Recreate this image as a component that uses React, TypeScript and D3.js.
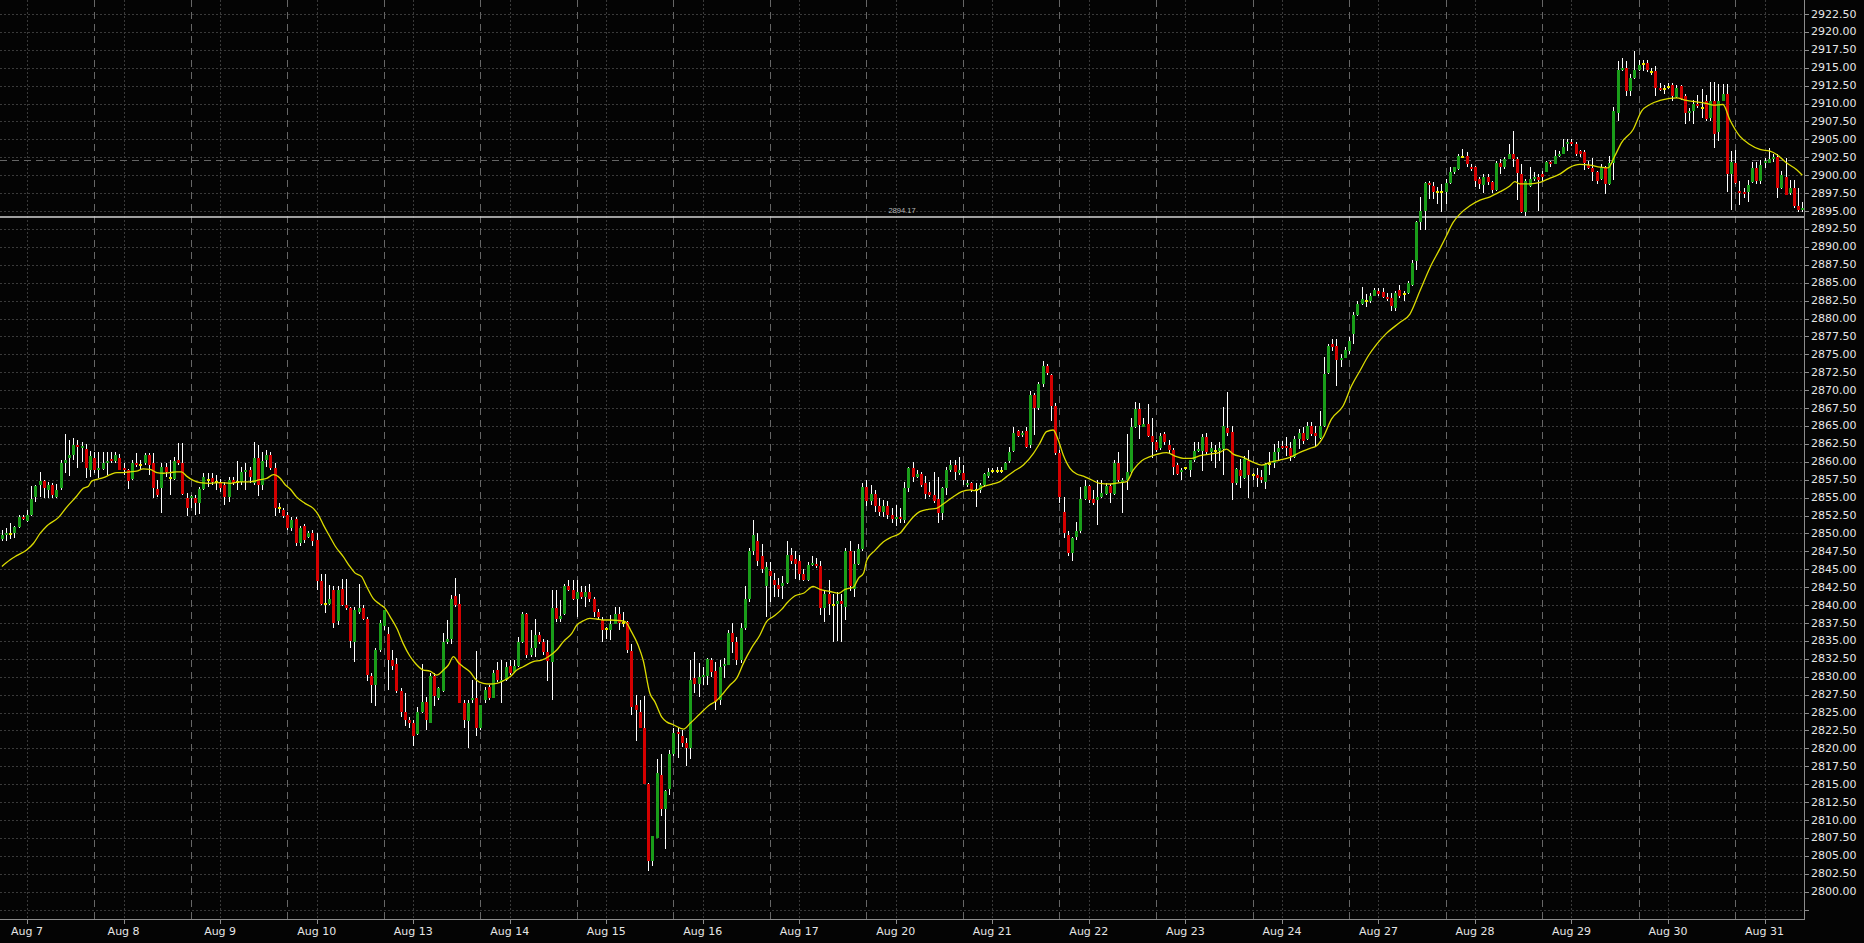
import React from "react";
import * as d3 from "d3";

// ---------- DATA (hourly candles, Aug 7 – Aug 31) ----------
const opens = [
  2849.2, 2849.8, 2849.9, 2850.1, 2850.9, 2852.3, 2851.7, 2852.6, 2855.1, 2856.8,
  2857.3, 2856.1, 2856.7, 2855.1, 2856.4, 2859.9, 2860.6, 2860.9, 2862.4, 2861.9,
  2861.8, 2858.9, 2860.5, 2858.9, 2859.0, 2859.9, 2860.3, 2860.1, 2860.6, 2859.1,
  2858.9, 2857.6, 2859.9, 2859.5, 2859.9, 2860.9, 2859.9, 2856.2, 2856.4, 2859.3,
  2857.8, 2857.6, 2860.3, 2859.9, 2855.0, 2854.9, 2855.0, 2854.2, 2856.2, 2857.5,
  2857.8, 2857.2, 2857.2, 2856.7, 2855.1, 2857.5, 2857.2, 2857.2, 2858.6, 2858.9,
  2857.0, 2860.6, 2856.7, 2860.3, 2860.9, 2859.1, 2853.5, 2853.3, 2852.6, 2850.7,
  2852.0, 2848.6, 2851.0, 2849.5, 2850.0, 2849.1, 2843.4, 2840.2, 2840.2, 2842.1,
  2837.8, 2842.2, 2840.0, 2839.6, 2834.9, 2839.1, 2839.6, 2838.1, 2830.1, 2828.8,
  2833.7, 2837.1, 2836.0, 2832.3, 2831.8, 2828.0, 2825.1, 2824.0, 2823.5, 2822.0,
  2825.1, 2826.5, 2823.6, 2830.1, 2827.1, 2828.0, 2834.9, 2835.2, 2841.3, 2840.2,
  2826.4, 2823.8, 2826.8, 2827.1, 2822.9, 2826.7, 2828.6, 2827.1, 2830.9, 2829.2,
  2829.5, 2831.5, 2830.6, 2831.5, 2834.9, 2838.8, 2833.0, 2834.0, 2835.8, 2834.9,
  2833.4, 2832.1, 2839.6, 2838.1, 2838.8, 2842.6, 2842.1, 2840.9, 2841.8, 2841.2,
  2841.8, 2840.8, 2839.1, 2837.9, 2836.7, 2836.5, 2837.4, 2838.8, 2837.5, 2837.7,
  2833.6, 2826.0, 2825.1, 2822.8, 2815.0, 2804.3, 2807.5, 2816.3, 2811.6, 2814.4,
  2819.2, 2822.2, 2821.7, 2820.8, 2820.1, 2829.8, 2829.0, 2830.0, 2830.1, 2832.3,
  2830.8, 2826.7, 2831.5, 2831.7, 2836.1, 2834.9, 2832.4, 2836.8, 2840.8, 2847.5,
  2849.0, 2846.8, 2842.6, 2844.8, 2843.5, 2842.8, 2842.6, 2843.1, 2847.0, 2846.4,
  2846.1, 2844.4, 2843.5, 2845.6, 2845.8, 2845.4, 2839.6, 2841.6, 2840.0, 2840.1,
  2840.6, 2839.8, 2847.5, 2842.3, 2845.8, 2847.8, 2856.5, 2854.5, 2855.5, 2853.8,
  2853.0, 2853.8, 2852.6, 2852.0, 2852.3, 2851.9, 2856.3, 2859.2, 2857.9, 2858.3,
  2857.0, 2855.8, 2855.4, 2854.8, 2852.8, 2856.3, 2858.9, 2859.5, 2858.4, 2858.4,
  2856.8, 2857.0, 2856.0, 2856.0, 2856.7, 2858.0, 2858.7, 2858.7, 2858.7, 2858.9,
  2860.1, 2861.5, 2864.3, 2863.7, 2864.3, 2862.3, 2869.3, 2867.5, 2870.9, 2873.4,
  2872.1, 2867.8, 2861.2, 2853.0, 2849.8, 2847.3, 2849.5, 2850.4, 2854.8, 2856.6,
  2854.8, 2854.6, 2855.1, 2855.5, 2856.6, 2855.5, 2859.8, 2857.1, 2857.5, 2858.6,
  2864.8, 2867.4, 2864.9, 2865.3, 2863.6, 2862.8, 2861.9, 2863.9, 2862.3, 2861.7,
  2859.5, 2858.6, 2859.1, 2858.9, 2860.2, 2861.5, 2861.5, 2863.5, 2861.4, 2861.5,
  2861.5, 2861.8, 2864.7, 2864.2, 2857.0, 2858.8, 2857.8, 2860.1, 2858.1, 2858.2,
  2857.9, 2857.2, 2859.7, 2859.8, 2861.4, 2862.2, 2862.2, 2861.9, 2860.7, 2863.2,
  2864.0, 2863.2, 2865.0, 2864.0, 2863.3, 2865.0, 2872.4, 2876.5, 2876.2, 2874.2,
  2874.5, 2875.5, 2877.8, 2880.5, 2882.0, 2882.4, 2882.5, 2883.2, 2883.8, 2883.7,
  2883.0, 2882.8, 2881.5, 2884.0, 2883.4, 2883.5, 2884.7, 2888.0, 2893.5, 2895.0,
  2898.9, 2898.5, 2897.6, 2897.6, 2897.7, 2898.9, 2900.5, 2900.8, 2902.6, 2902.7,
  2901.1, 2901.1, 2899.5, 2898.6, 2899.8, 2899.0, 2898.0, 2901.7, 2901.1, 2902.3,
  2903.0, 2902.3, 2900.1, 2894.8, 2898.5, 2899.5, 2899.8, 2900.1, 2900.5, 2901.8,
  2901.6, 2902.7, 2903.0, 2904.3, 2904.6, 2904.3, 2903.4, 2903.2, 2901.4, 2901.0,
  2900.4, 2899.5, 2901.1, 2898.8, 2901.7, 2908.7, 2914.7, 2914.9, 2911.7, 2913.5,
  2914.7, 2915.5, 2915.6, 2914.4, 2914.6, 2912.2, 2912.0, 2912.3, 2912.6, 2910.9,
  2912.4, 2911.0, 2908.7, 2908.9, 2909.9, 2909.4, 2910.3, 2908.0, 2910.4, 2906.0,
  2910.4, 2911.4, 2900.1, 2901.7, 2897.7, 2897.7, 2897.6, 2899.1, 2901.0, 2899.2,
  2901.7, 2901.7, 2902.3, 2902.6, 2898.2, 2899.7, 2897.5, 2898.2, 2895.7, 2895.2,
];

const highs = [
  2850.5, 2850.7, 2851.5, 2851.0, 2852.6, 2852.6, 2853.3, 2856.6, 2856.8, 2858.6,
  2857.5, 2857.2, 2857.0, 2856.9, 2860.3, 2863.9, 2863.0, 2863.3, 2863.0, 2862.7,
  2862.5, 2861.5, 2861.3, 2861.3, 2861.3, 2861.3, 2861.3, 2861.3, 2861.1, 2859.8,
  2859.0, 2860.3, 2861.2, 2860.3, 2861.2, 2861.2, 2861.2, 2857.5, 2859.8, 2859.8,
  2860.3, 2860.7, 2862.6, 2862.6, 2855.7, 2855.4, 2855.4, 2856.5, 2858.5, 2858.4,
  2858.4, 2858.2, 2857.6, 2857.2, 2857.9, 2857.9, 2860.1, 2859.3, 2859.8, 2859.3,
  2862.7, 2862.4, 2861.4, 2861.6, 2861.4, 2859.8, 2854.2, 2853.6, 2853.0, 2852.3,
  2852.3, 2851.0, 2851.3, 2850.4, 2850.5, 2850.0, 2844.4, 2844.4, 2842.8, 2842.6,
  2842.6, 2843.7, 2843.7, 2839.8, 2839.8, 2843.0, 2840.0, 2838.4, 2830.5, 2834.0,
  2837.9, 2839.3, 2837.0, 2833.8, 2832.6, 2828.4, 2827.7, 2824.4, 2823.9, 2825.8,
  2831.8, 2827.2, 2830.5, 2830.5, 2828.6, 2836.1, 2837.9, 2841.4, 2843.8, 2841.5,
  2826.7, 2826.7, 2829.6, 2833.6, 2826.1, 2828.6, 2828.8, 2830.9, 2832.1, 2832.4,
  2832.1, 2832.3, 2832.3, 2835.6, 2839.1, 2838.9, 2836.5, 2838.0, 2836.3, 2835.2,
  2835.1, 2842.1, 2842.1, 2840.7, 2843.0, 2843.5, 2843.5, 2843.5, 2842.7, 2842.6,
  2843.0, 2841.2, 2839.5, 2838.4, 2837.0, 2838.6, 2839.7, 2839.7, 2839.1, 2837.8,
  2834.6, 2827.5, 2826.8, 2827.3, 2815.2, 2807.8, 2818.5, 2819.2, 2814.2, 2819.8,
  2822.8, 2822.8, 2822.5, 2821.4, 2832.3, 2833.5, 2831.9, 2831.4, 2832.6, 2832.6,
  2832.1, 2832.3, 2832.6, 2836.5, 2837.5, 2835.6, 2837.5, 2842.6, 2848.0, 2851.9,
  2850.0, 2848.5, 2846.0, 2846.0, 2844.5, 2843.8, 2844.0, 2849.0, 2848.0, 2847.5,
  2847.0, 2845.0, 2846.0, 2846.8, 2846.6, 2846.2, 2842.0, 2843.5, 2841.5, 2841.8,
  2841.5, 2848.0, 2849.0, 2847.5, 2848.5, 2857.0, 2857.5, 2856.8, 2856.0, 2855.0,
  2854.6, 2854.5, 2853.5, 2854.0, 2853.5, 2857.2, 2859.3, 2860.0, 2858.8, 2858.6,
  2858.0, 2857.2, 2858.6, 2857.9, 2856.5, 2859.3, 2860.2, 2860.2, 2860.7, 2859.5,
  2857.4, 2857.2, 2857.0, 2857.0, 2858.5, 2859.1, 2859.1, 2859.3, 2859.3, 2860.0,
  2862.1, 2864.9, 2864.5, 2864.3, 2864.9, 2869.9, 2869.6, 2871.2, 2874.1, 2873.7,
  2872.3, 2868.2, 2861.6, 2855.1, 2850.4, 2849.5, 2851.6, 2856.5, 2857.5, 2856.8,
  2856.1, 2857.5, 2857.5, 2857.0, 2856.9, 2860.2, 2861.3, 2857.7, 2863.9, 2866.1,
  2868.3, 2868.2, 2866.1, 2868.0, 2866.1, 2863.0, 2864.0, 2864.1, 2863.0, 2861.9,
  2859.8, 2859.1, 2859.3, 2860.3, 2862.7, 2862.8, 2863.9, 2864.0, 2862.7, 2862.4,
  2862.7, 2867.7, 2869.7, 2865.0, 2859.2, 2860.4, 2860.8, 2861.7, 2858.5, 2859.2,
  2858.8, 2859.8, 2861.4, 2862.5, 2862.9, 2862.9, 2863.4, 2862.7, 2863.6, 2864.6,
  2864.8, 2865.5, 2865.5, 2865.0, 2867.1, 2874.6, 2876.4, 2877.1, 2877.1, 2875.0,
  2876.0, 2877.4, 2880.9, 2882.5, 2884.4, 2883.4, 2883.6, 2884.3, 2884.3, 2884.3,
  2883.5, 2883.6, 2883.8, 2884.7, 2883.8, 2885.3, 2888.1, 2893.6, 2896.9, 2899.0,
  2899.2, 2899.0, 2898.3, 2898.8, 2899.5, 2901.1, 2901.1, 2902.9, 2903.6, 2903.3,
  2901.6, 2901.3, 2899.7, 2900.1, 2900.1, 2899.2, 2902.0, 2902.2, 2902.5, 2904.3,
  2906.2, 2902.5, 2901.6, 2899.5, 2901.1, 2900.4, 2900.1, 2900.6, 2902.0, 2902.0,
  2903.5, 2903.4, 2905.0, 2905.0, 2905.0, 2904.6, 2903.5, 2903.5, 2902.0, 2902.4,
  2900.6, 2901.6, 2901.3, 2902.7, 2909.5, 2915.9, 2916.3, 2915.9, 2914.1, 2917.4,
  2916.1, 2916.1, 2916.1, 2914.9, 2915.2, 2912.8, 2912.6, 2912.9, 2912.8, 2912.6,
  2912.6, 2911.3, 2909.4, 2910.5, 2911.2, 2912.0, 2911.2, 2913.0, 2913.0, 2912.7,
  2912.7, 2912.7, 2903.4, 2903.5, 2899.2, 2898.2, 2899.4, 2901.9, 2901.8, 2902.1,
  2902.4, 2903.8, 2902.9, 2902.9, 2900.6, 2902.4, 2899.4, 2899.4, 2898.2, 2896.3,
];

const lows = [
  2849.0, 2849.0, 2849.2, 2849.3, 2850.8, 2851.9, 2851.6, 2852.4, 2854.4, 2855.1,
  2855.0, 2855.0, 2855.0, 2854.9, 2856.1, 2858.5, 2858.0, 2860.2, 2859.1, 2860.0,
  2857.8, 2857.9, 2858.4, 2857.7, 2858.9, 2858.2, 2859.8, 2859.9, 2858.8, 2858.2,
  2856.2, 2857.5, 2859.3, 2858.9, 2859.6, 2858.2, 2855.0, 2855.1, 2852.9, 2857.9,
  2855.4, 2857.5, 2859.6, 2855.4, 2852.5, 2853.6, 2852.6, 2852.7, 2856.1, 2856.5,
  2856.8, 2856.1, 2855.8, 2854.0, 2854.4, 2856.8, 2856.1, 2856.8, 2856.1, 2857.0,
  2856.8, 2855.2, 2856.1, 2859.3, 2858.9, 2852.4, 2852.8, 2852.2, 2850.5, 2850.4,
  2848.2, 2848.2, 2848.6, 2849.3, 2848.2, 2842.1, 2840.0, 2838.9, 2840.0, 2836.8,
  2837.2, 2839.9, 2839.3, 2834.0, 2832.0, 2838.8, 2837.9, 2829.4, 2826.3, 2825.9,
  2833.5, 2836.5, 2828.2, 2830.9, 2827.7, 2824.4, 2823.1, 2822.9, 2820.3, 2821.9,
  2825.0, 2822.5, 2823.5, 2825.9, 2826.8, 2827.9, 2834.6, 2834.6, 2839.8, 2826.3,
  2822.8, 2820.0, 2826.3, 2821.7, 2822.6, 2826.3, 2826.7, 2827.0, 2829.3, 2826.3,
  2829.4, 2830.2, 2830.5, 2831.4, 2834.7, 2832.6, 2832.8, 2832.7, 2834.6, 2833.0,
  2829.4, 2826.7, 2837.7, 2837.7, 2838.6, 2841.9, 2840.7, 2838.4, 2840.9, 2839.8,
  2840.5, 2838.4, 2837.9, 2834.9, 2835.2, 2835.1, 2837.3, 2836.5, 2837.0, 2833.3,
  2824.7, 2821.0, 2822.8, 2815.0, 2802.9, 2803.6, 2807.5, 2810.6, 2805.9, 2813.5,
  2818.9, 2818.6, 2820.2, 2817.5, 2818.5, 2827.7, 2827.2, 2828.9, 2828.9, 2830.0,
  2825.4, 2826.1, 2829.8, 2831.6, 2833.3, 2831.6, 2831.9, 2836.5, 2840.5, 2847.0,
  2845.5, 2844.5, 2838.4, 2840.5, 2841.2, 2841.2, 2840.8, 2842.9, 2845.7, 2843.7,
  2843.5, 2843.4, 2843.3, 2845.5, 2845.2, 2838.6, 2837.7, 2838.6, 2834.9, 2835.0,
  2834.9, 2837.9, 2842.0, 2841.2, 2845.6, 2847.5, 2853.8, 2854.0, 2853.0, 2852.5,
  2852.3, 2852.0, 2851.5, 2851.0, 2851.5, 2851.5, 2855.8, 2857.2, 2857.7, 2856.5,
  2854.8, 2855.1, 2854.2, 2851.5, 2851.9, 2855.3, 2858.6, 2857.5, 2858.2, 2856.7,
  2856.5, 2855.8, 2853.7, 2855.6, 2856.5, 2857.7, 2858.4, 2858.4, 2858.5, 2858.8,
  2859.8, 2861.4, 2863.4, 2863.5, 2861.9, 2861.9, 2863.7, 2867.2, 2870.5, 2872.1,
  2865.7, 2860.9, 2854.2, 2849.3, 2846.8, 2846.2, 2849.1, 2850.0, 2854.7, 2854.2,
  2854.0, 2851.2, 2854.9, 2855.4, 2854.2, 2855.4, 2857.2, 2852.9, 2856.1, 2858.4,
  2864.7, 2863.2, 2864.8, 2863.5, 2860.5, 2861.4, 2861.6, 2862.3, 2861.2, 2858.2,
  2858.2, 2857.5, 2858.9, 2857.9, 2860.0, 2861.4, 2858.7, 2861.0, 2860.1, 2859.1,
  2860.1, 2858.1, 2863.6, 2854.7, 2856.7, 2856.4, 2857.6, 2854.9, 2857.4, 2856.5,
  2857.1, 2856.2, 2858.2, 2859.2, 2860.2, 2861.8, 2860.8, 2860.1, 2860.6, 2861.8,
  2862.5, 2863.0, 2863.6, 2862.0, 2863.2, 2864.9, 2872.2, 2875.5, 2870.6, 2873.3,
  2874.5, 2875.0, 2876.4, 2880.3, 2881.9, 2881.6, 2882.2, 2883.1, 2883.2, 2882.9,
  2882.5, 2881.1, 2881.1, 2882.9, 2882.5, 2883.4, 2884.6, 2886.8, 2892.4, 2892.4,
  2896.7, 2896.7, 2896.0, 2894.9, 2896.0, 2898.8, 2900.1, 2900.7, 2902.4, 2901.2,
  2900.6, 2898.3, 2898.1, 2897.5, 2898.7, 2897.5, 2897.8, 2900.2, 2900.9, 2902.2,
  2901.1, 2896.5, 2894.7, 2894.3, 2898.4, 2899.2, 2895.0, 2899.2, 2900.4, 2901.1,
  2901.5, 2902.5, 2902.9, 2903.4, 2904.1, 2902.7, 2902.6, 2900.7, 2900.8, 2899.2,
  2898.8, 2899.3, 2897.4, 2898.7, 2899.4, 2907.5, 2914.6, 2911.1, 2911.1, 2913.4,
  2914.5, 2914.5, 2914.4, 2914.0, 2911.1, 2911.7, 2911.3, 2912.0, 2910.4, 2910.8,
  2910.5, 2907.1, 2907.5, 2907.2, 2909.4, 2908.0, 2907.5, 2907.5, 2903.8, 2904.8,
  2910.3, 2897.7, 2895.2, 2898.8, 2895.8, 2896.8, 2896.2, 2898.9, 2898.8, 2898.8,
  2901.0, 2901.7, 2901.9, 2896.8, 2898.1, 2897.2, 2897.3, 2895.4, 2894.9, 2894.9,
];

const closes = [
  2849.8, 2850.0, 2849.9, 2850.9, 2852.3, 2852.0, 2852.6, 2854.8, 2856.6, 2857.3,
  2856.4, 2856.7, 2855.4, 2856.1, 2859.9, 2860.3, 2860.9, 2862.4, 2862.1, 2862.1,
  2859.2, 2860.8, 2858.9, 2859.1, 2859.9, 2860.1, 2860.1, 2860.9, 2858.9, 2858.9,
  2857.3, 2859.9, 2859.6, 2859.5, 2860.9, 2859.6, 2856.4, 2855.4, 2859.3, 2858.6,
  2857.8, 2860.1, 2859.9, 2855.5, 2853.6, 2855.2, 2854.2, 2856.2, 2857.9, 2857.5,
  2857.2, 2857.2, 2856.4, 2855.1, 2857.5, 2857.1, 2857.2, 2858.6, 2858.9, 2857.9,
  2860.6, 2856.7, 2860.1, 2860.9, 2859.2, 2853.6, 2853.5, 2852.4, 2850.7, 2851.9,
  2848.6, 2850.7, 2849.1, 2850.0, 2848.9, 2843.4, 2840.2, 2840.2, 2840.8, 2837.5,
  2842.1, 2840.0, 2839.6, 2835.0, 2839.3, 2839.6, 2838.1, 2830.2, 2828.8, 2833.7,
  2837.5, 2839.3, 2832.3, 2831.5, 2828.0, 2825.1, 2824.0, 2823.5, 2821.7, 2825.1,
  2826.5, 2823.9, 2830.1, 2827.3, 2828.4, 2834.9, 2835.2, 2840.9, 2840.0, 2826.4,
  2824.0, 2826.4, 2827.1, 2822.9, 2826.0, 2828.2, 2827.1, 2830.5, 2829.6, 2829.5,
  2831.4, 2830.5, 2831.5, 2834.9, 2838.8, 2833.0, 2834.0, 2835.8, 2834.9, 2833.4,
  2832.2, 2839.6, 2838.1, 2838.5, 2842.6, 2842.1, 2840.9, 2841.8, 2841.1, 2841.8,
  2840.8, 2839.1, 2838.4, 2836.5, 2836.7, 2837.4, 2838.8, 2837.5, 2837.5, 2833.7,
  2825.8, 2825.3, 2822.9, 2815.0, 2804.3, 2807.8, 2816.5, 2811.6, 2814.1, 2819.2,
  2822.1, 2822.0, 2820.8, 2820.1, 2829.5, 2829.0, 2829.9, 2830.1, 2832.5, 2830.6,
  2826.5, 2831.4, 2831.7, 2836.1, 2834.9, 2832.4, 2836.8, 2840.8, 2847.5, 2849.8,
  2846.1, 2845.1, 2845.3, 2844.1, 2842.8, 2842.3, 2843.1, 2847.0, 2846.1, 2845.8,
  2844.4, 2843.5, 2845.6, 2845.8, 2845.4, 2839.6, 2841.6, 2840.1, 2840.0, 2840.6,
  2840.1, 2847.5, 2842.6, 2845.8, 2847.8, 2856.5, 2854.5, 2855.5, 2853.8, 2853.0,
  2853.8, 2852.6, 2852.0, 2852.3, 2852.0, 2856.3, 2859.1, 2857.9, 2858.3, 2856.8,
  2855.5, 2855.3, 2854.5, 2852.8, 2856.3, 2858.9, 2859.5, 2858.6, 2858.9, 2857.4,
  2857.0, 2856.1, 2856.0, 2856.7, 2858.3, 2858.6, 2858.7, 2858.7, 2858.7, 2859.8,
  2861.4, 2864.0, 2863.6, 2864.0, 2862.1, 2869.3, 2867.5, 2870.9, 2873.4, 2872.4,
  2867.8, 2861.2, 2855.1, 2850.1, 2847.3, 2849.3, 2850.3, 2854.8, 2856.6, 2854.6,
  2854.3, 2855.1, 2855.6, 2856.6, 2855.6, 2859.8, 2857.5, 2857.5, 2858.6, 2864.8,
  2867.4, 2865.1, 2865.3, 2863.6, 2862.8, 2861.6, 2863.6, 2862.7, 2861.7, 2859.3,
  2858.3, 2858.9, 2859.1, 2860.2, 2861.5, 2861.8, 2863.5, 2861.4, 2861.9, 2861.5,
  2861.9, 2865.0, 2864.0, 2857.0, 2859.0, 2858.0, 2860.4, 2858.2, 2858.1, 2857.7,
  2857.5, 2859.7, 2859.7, 2861.3, 2861.9, 2862.0, 2862.0, 2860.8, 2863.2, 2864.0,
  2862.9, 2865.0, 2863.9, 2863.6, 2865.0, 2872.2, 2876.2, 2876.0, 2874.2, 2874.5,
  2875.6, 2876.8, 2880.5, 2882.0, 2882.7, 2882.4, 2883.2, 2884.0, 2883.4, 2883.0,
  2882.8, 2881.8, 2883.6, 2883.2, 2883.4, 2884.9, 2887.8, 2893.5, 2895.0, 2898.9,
  2898.6, 2897.6, 2897.6, 2897.6, 2898.9, 2900.5, 2901.1, 2902.7, 2902.6, 2901.6,
  2900.9, 2899.2, 2898.8, 2899.8, 2899.0, 2898.0, 2901.7, 2901.2, 2902.3, 2903.0,
  2902.3, 2900.3, 2894.8, 2899.2, 2899.5, 2899.8, 2899.3, 2899.8, 2901.8, 2901.6,
  2902.7, 2903.0, 2904.0, 2904.6, 2904.3, 2903.0, 2903.0, 2901.7, 2901.0, 2900.4,
  2899.2, 2901.1, 2898.8, 2901.7, 2908.9, 2914.7, 2915.0, 2911.7, 2913.5, 2914.7,
  2915.4, 2915.5, 2914.7, 2914.4, 2912.2, 2911.9, 2912.0, 2912.3, 2911.0, 2912.2,
  2910.7, 2908.7, 2909.0, 2909.9, 2909.7, 2909.4, 2907.9, 2910.4, 2905.8, 2910.4,
  2911.4, 2900.2, 2901.8, 2898.9, 2897.6, 2897.4, 2898.7, 2901.0, 2899.2, 2901.4,
  2901.9, 2902.3, 2902.6, 2898.2, 2900.0, 2897.3, 2898.2, 2895.7, 2895.2, 2895.4,
];

// moving-average line (bar position, price)
const maIndex = [
  0, 1.9, 3.5, 5.9, 7.5, 9.1, 10.7, 13.5, 15.4, 17.8, 19.4, 20.6, 21.4, 22.6, 24.2, 25.8, 27.4, 28.9, 30.5, 32.1,
  33.7, 35.3, 36.9, 38.5, 40.1, 41.6, 42.8, 44.0, 45.6, 47.2, 49.6, 52, 54.4, 56.7, 59.1, 61.5, 63.1, 64.7, 66.3, 67.5,
  68.7, 70.2, 72.2, 74.2, 75.4, 76.6, 78.2, 79.4, 81.35, 82.9, 84.1, 85.7, 86.9, 88.5, 90.1, 91.3, 92.5, 94.1, 95.6, 97.2,
  98.4, 100.4, 102, 103.6, 105.2, 106.4, 107.6, 108.8, 109.9, 111.5, 113.1, 114.7, 116.3, 117.9, 119.5, 121.1, 122.7, 124.2, 126.6, 128.6,
  130.2, 132.2, 133.8, 135.8, 137, 138.5, 140.1, 141.7, 143.3, 144.9, 147.3, 148.5, 150.0, 151.6, 152.8, 154.4, 155.6, 157.2, 158.4, 160,
  162.4, 164, 166.3, 168.7, 169.9, 171.9, 173.5, 175.1, 176.7, 178.6, 180.6, 182.2, 183.8, 185.8, 187, 189, 191, 193.3, 194.9, 197.3,
  199.3, 200.9, 202.9, 204.1, 205.3, 206.1, 208, 210, 212, 214, 215.6, 217.2, 218.7, 220.7, 222.7, 224.3, 226.7, 228.7, 230.7, 231.9,
  233.8, 235.8, 237.8, 239.4, 241, 243.4, 245.8, 247.3, 248.9, 250.5, 251.7, 252.9, 254.5, 256.1, 257.7, 259.7, 261.6, 264, 266.4, 268,
  269.6, 271.6, 273.6, 275.5, 277.5, 279.9, 281.5, 283.5, 285.5, 287.8, 290.2, 291.8, 293.4, 295.8, 298.2, 300.2, 302.1, 304.5, 306.9, 309.3,
  311.7, 313.3, 314.8, 316.8, 319.6, 321.6, 323.6, 325.6, 327.6, 329.9, 333.1, 335.5, 337.9, 340.3, 342.6, 344.2, 345.8, 347.4, 349.8, 352.2,
  354.6, 357, 359.3, 360.5, 361.7, 364.1, 366.5, 368.9, 371.2, 373.6, 376, 378.4, 380.8, 382.7, 384.3, 385.9, 388.7, 390.7, 392.7, 395.1,
  397.4, 399, 401.4, 403.8, 406.2, 407.8, 410.1, 411.7, 414.1, 416.5, 418.9, 421.3, 422.9, 425.2, 427.6, 429,
];
const maValue = [
  2845.4, 2846.3, 2846.9, 2847.7, 2848.6, 2850.0, 2851.05, 2852.25, 2853.65, 2855.2, 2856.3, 2856.6, 2857.3, 2857.55, 2857.8, 2858.2, 2858.5, 2858.5, 2858.6, 2858.7,
  2859.0, 2858.95, 2858.5, 2858.4, 2858.5, 2858.6, 2858.6, 2858.0, 2857.4, 2857.1, 2857.0, 2857.1, 2857.0, 2857.2, 2857.2, 2857.5, 2857.7, 2858.2, 2857.7, 2856.8,
  2856.2, 2855.1, 2854.2, 2853.5, 2852.6, 2851.2, 2849.5, 2848.25, 2846.76, 2845.4, 2844.5, 2843.97, 2842.6, 2840.9, 2840.1, 2839.55, 2838.4, 2836.76, 2834.66, 2832.9,
  2831.96, 2830.94, 2830.8, 2830.24, 2830.94, 2831.64, 2832.8, 2831.96, 2831.4, 2830.7, 2829.5, 2829.08, 2828.99, 2829.08, 2829.45, 2830.0, 2830.94, 2831.4, 2832.1, 2832.33,
  2832.8, 2833.73, 2834.9, 2836.06, 2837.22, 2837.8, 2838.15, 2838.06, 2837.92, 2837.92, 2837.83, 2837.7, 2836.3, 2834.4, 2832.3, 2827.7, 2826.5, 2824.4, 2823.7, 2823.3,
  2822.7, 2823.5, 2824.8, 2826.1, 2826.5, 2827.7, 2828.85, 2829.8, 2831.9, 2834.0, 2835.8, 2837.7, 2838.4, 2839.4, 2840.25, 2841.3, 2841.65, 2842.6, 2842.2, 2841.9,
  2841.65, 2842.2, 2842.5, 2843.74, 2844.44, 2846.3, 2847.6, 2848.8, 2849.5, 2850.02, 2851.2, 2852.34, 2853.04, 2853.37, 2853.5, 2854.1, 2855.13, 2855.83, 2856.07, 2855.97,
  2856.53, 2856.86, 2857.23, 2857.93, 2858.62, 2859.55, 2861.18, 2862.58, 2864.21, 2864.44, 2863.04, 2860.95, 2859.09, 2858.3, 2858.0, 2857.46, 2856.99, 2856.9, 2857.09, 2857.23,
  2858.86, 2860.16, 2860.72, 2861.09, 2861.28, 2860.72, 2860.48, 2860.48, 2860.86, 2861.08, 2861.31, 2861.78, 2861.08, 2860.61, 2859.92, 2859.54, 2859.92, 2860.24, 2860.61, 2861.31,
  2861.87, 2862.24, 2863.4, 2865.96, 2867.82, 2870.61, 2872.71, 2874.8, 2876.43, 2877.92, 2879.45, 2880.62, 2883.87, 2887.13, 2889.69, 2891.55, 2893.41, 2894.57, 2895.74, 2896.53,
  2896.99, 2897.7, 2898.5, 2899.1, 2898.8, 2898.8, 2899.0, 2899.6, 2900.15, 2901.1, 2901.5, 2901.4, 2901.12, 2901.03, 2902.66, 2904.52, 2906.38, 2908.94, 2909.87, 2910.43,
  2910.71, 2910.8, 2910.43, 2910.24, 2910.01, 2909.78, 2909.87, 2907.78, 2905.45, 2904.29, 2903.59, 2903.36, 2902.9, 2901.73, 2900.8, 2900.0,
];

const dayLabels = [
  "Aug 7", "Aug 8", "Aug 9", "Aug 10", "Aug 13", "Aug 14", "Aug 15", "Aug 16", "Aug 17", "Aug 20",
  "Aug 21", "Aug 22", "Aug 23", "Aug 24", "Aug 27", "Aug 28", "Aug 29", "Aug 30", "Aug 31",
];
const dayLabelBar = [6, 29, 52, 75, 98, 121, 144, 167, 190, 213, 236, 259, 282, 305, 328, 351, 374, 397, 420];
const sessionStartBar = [22, 45, 68, 91, 114, 137, 160, 183, 206, 229, 252, 275, 298, 321, 344, 367, 390, 413];
const priceTicks = d3.range(2797.5, 2923, 2.5);
const lastPrice = 2894.17;
const levelPrice = 2902.1;

// ---------- LAYOUT ----------
const W = 1864;
const H = 943;
const AXIS_X = 1804.5;
const AXIS_Y = 919.5;
const FONT = "'DejaVu Sans', Verdana, sans-serif";

export default function App() {
  const n = Math.min(opens.length, highs.length, lows.length, closes.length);
  const x = d3.scaleLinear().domain([0, 429]).range([1.9, 1802.3]);
  const y = d3.scaleLinear().domain([2800, 2922.5]).range([891.7, 14]);
  const px = (v: number) => Math.round(v) + 0.5;

  const maLine = d3
    .line<number>()
    .x((i) => x(maIndex[i]))
    .y((i) => y(maValue[i]))
    .curve(d3.curveMonotoneX);
  const maPath = maLine(d3.range(Math.min(maIndex.length, maValue.length))) || "";

  return (
    <svg
      width={W}
      height={H}
      style={{ position: "fixed", left: 0, top: 0, display: "block", background: "#040404" }}
    >
      <rect x={0} y={0} width={W} height={H} fill="#040404" />

      {/* horizontal dotted grid */}
      <g shapeRendering="crispEdges">
        {priceTicks.map((t) => (
          <line
            key={"hg" + t}
            x1={0}
            x2={AXIS_X}
            y1={px(y(t))}
            y2={px(y(t))}
            stroke="#3a3a3a"
            strokeDasharray="2,2"
          />
        ))}
        {dayLabelBar.map((b) => (
          <line
            key={"vg" + b}
            x1={px(x(b))}
            x2={px(x(b))}
            y1={0}
            y2={AXIS_Y}
            stroke="#3a3a3a"
            strokeDasharray="2,2"
          />
        ))}
        {sessionStartBar.map((b) => (
          <line
            key={"sg" + b}
            x1={px(x(b))}
            x2={px(x(b))}
            y1={0}
            y2={AXIS_Y}
            stroke="#666666"
            strokeDasharray="7,5"
          />
        ))}
        <line
          x1={0}
          x2={AXIS_X}
          y1={px(y(levelPrice))}
          y2={px(y(levelPrice))}
          stroke="#666666"
          strokeDasharray="7,5"
        />
      </g>

      {/* last price line */}
      <line x1={0} x2={AXIS_X} y1={y(lastPrice)} y2={y(lastPrice)} stroke="#d2d2d2" strokeWidth={1.3} />
      <text
        x={902}
        y={y(lastPrice) - 4}
        textAnchor="middle"
        fontFamily="'Liberation Sans', Arial, sans-serif"
        fontSize={7.5}
        fill="#b4b4b4"
      >
        {lastPrice.toFixed(2)}
      </text>

      {/* candles */}
      <g shapeRendering="crispEdges">
        {d3.range(n).map((i) => {
          const cx = Math.round(x(i));
          const o = opens[i];
          const c = closes[i];
          const hi = Math.max(highs[i], o, c);
          const lo = Math.min(lows[i], o, c);
          const top = y(Math.max(o, c));
          const bot = y(Math.min(o, c));
          let by = top;
          let bh = bot - top;
          if (bh < 2) {
            by = (top + bot) / 2 - 1;
            bh = 2;
          }
          const color = o === c ? "#e8e800" : c > o ? "#1a9e1a" : "#d40000";
          return (
            <g key={i}>
              <line x1={cx + 0.5} x2={cx + 0.5} y1={y(hi)} y2={y(lo)} stroke="#ffffff" strokeWidth={1} />
              <rect x={cx - 1} y={by} width={3} height={bh} fill={color} />
            </g>
          );
        })}
      </g>

      {/* moving average */}
      <path d={maPath} fill="none" stroke="#dcdc00" strokeWidth={1.3} />

      {/* axes */}
      <g shapeRendering="crispEdges">
        <line x1={AXIS_X} x2={AXIS_X} y1={0} y2={AXIS_Y} stroke="#8c8c8c" />
        <line x1={0} x2={AXIS_X} y1={AXIS_Y} y2={AXIS_Y} stroke="#8c8c8c" />
        {priceTicks.map((t) => (
          <line key={"yt" + t} x1={AXIS_X} x2={AXIS_X + 4} y1={px(y(t))} y2={px(y(t))} stroke="#8c8c8c" />
        ))}
        {dayLabelBar.map((b) => (
          <line key={"xt" + b} x1={px(x(b))} x2={px(x(b))} y1={AXIS_Y} y2={AXIS_Y + 4} stroke="#8c8c8c" />
        ))}
      </g>
      {priceTicks
        .filter((t) => t >= 2800)
        .map((t) => (
          <text
            key={"yl" + t}
            x={1811}
            y={y(t)}
            dominantBaseline="central"
            fontFamily={FONT}
            fontSize={11}
            fill="#e6e6e6"
          >
            {t.toFixed(2)}
          </text>
        ))}
      {dayLabelBar.map((b, k) => (
        <text
          key={"xl" + b}
          x={x(b)}
          y={935}
          textAnchor="middle"
          fontFamily={FONT}
          fontSize={11}
          fill="#e6e6e6"
        >
          {dayLabels[k]}
        </text>
      ))}
    </svg>
  );
}
